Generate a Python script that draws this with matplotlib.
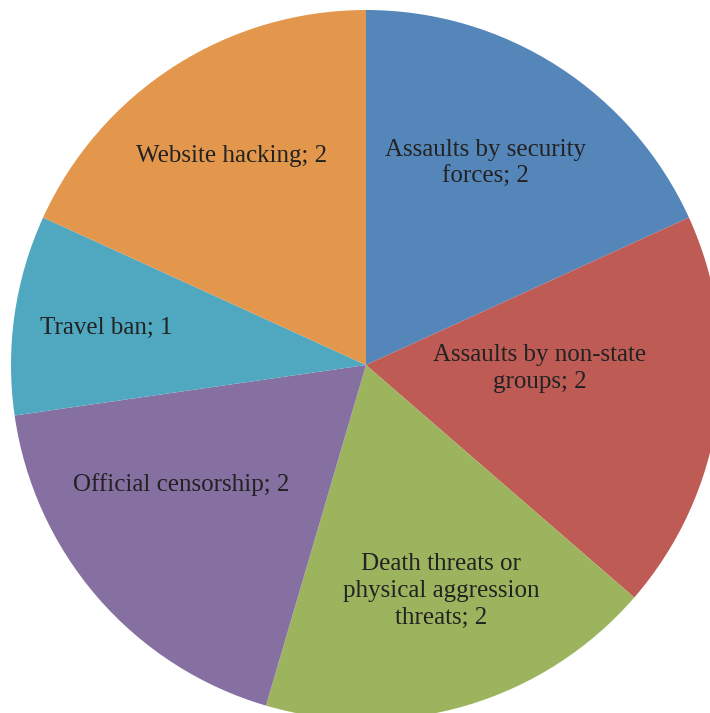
import matplotlib.pyplot as plt
import numpy as np

categories = [
    "Assaults by security\nforces",
    "Assaults by non-state\ngroups",
    "Death threats or\nphysical aggression\nthreats",
    "Official censorship",
    "Travel ban",
    "Website hacking",
]
counts = [2, 2, 2, 2, 1, 2]
colors = ["#5586BA", "#BE5B55", "#9DB45F", "#8570A1", "#4FA8BF", "#E3974C"]

# label placement inside each wedge: radius fraction and angle nudge (deg)
label_r = [0.66, 0.49, 0.67, 0.62, 0.74, 0.70]
label_shift = [2, 7, 2, -8, 0, 0]

W, H = 710, 713
CX, CY, R = 366, 365, 355

fig = plt.figure(figsize=(W / 100, H / 100), dpi=100)
ax = fig.add_axes([0, 0, 1, 1])
ax.set_axis_off()

wedges, _ = ax.pie(counts, colors=colors, startangle=90, counterclock=False,
                   radius=1, wedgeprops=dict(linewidth=0))

for w, cat, n, r, d in zip(wedges, categories, counts, label_r, label_shift):
    mid = np.deg2rad((w.theta1 + w.theta2) / 2 + d)
    ax.text(r * np.cos(mid), r * np.sin(mid), f"{cat}; {n}",
            ha="center", va="center", fontsize=18, color="#222222",
            family="Liberation Serif", linespacing=1.3)

ax.set_xlim(-CX / R, (W - CX) / R)
ax.set_ylim(-(H - CY) / R, CY / R)
ax.set_aspect("auto")

fig.savefig("out.png", dpi=100)
